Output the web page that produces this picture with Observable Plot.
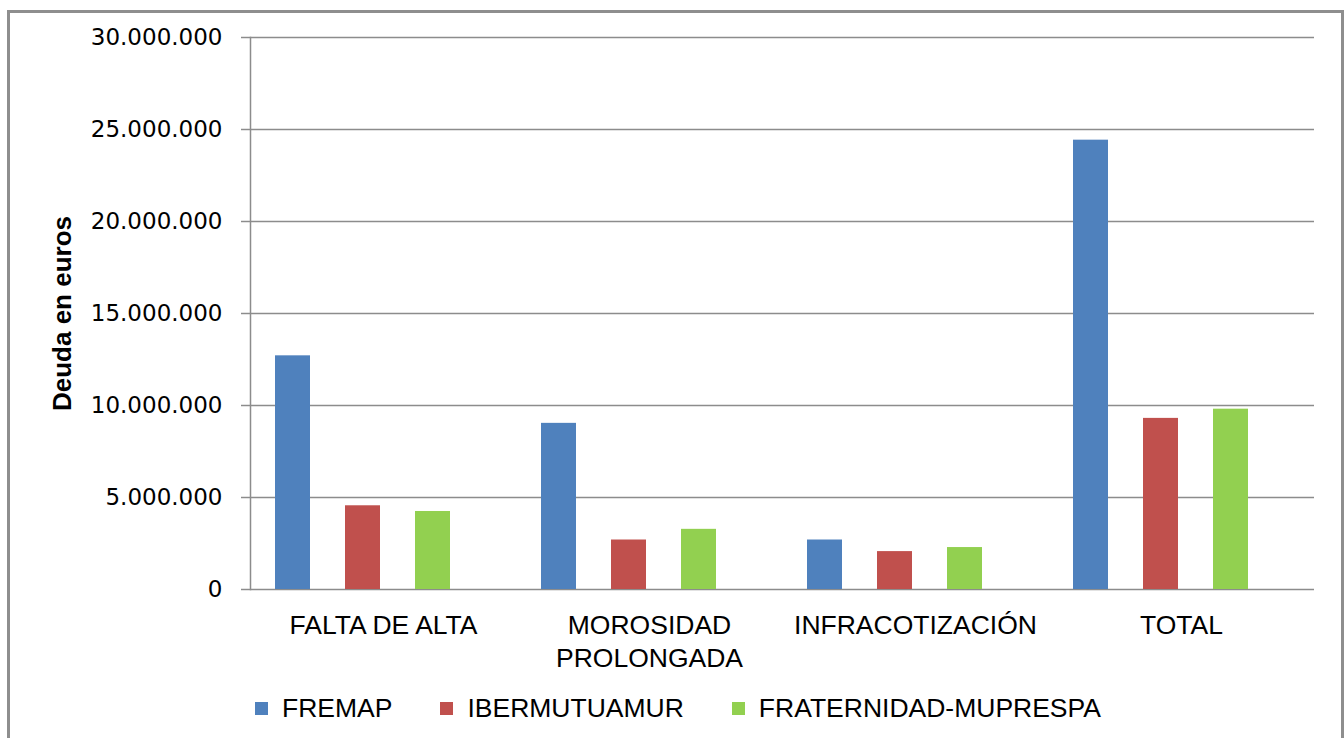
<!DOCTYPE html>
<html>
<head>
<meta charset="utf-8">
<script src="https://cdn.jsdelivr.net/npm/d3@7"></script>
<script src="https://cdn.jsdelivr.net/npm/@observablehq/plot@0.6"></script>
<style>
  html, body { margin: 0; padding: 0; background: #fff; }
  #wrap { position: relative; width: 1344px; height: 738px; overflow: hidden; background: #fff; }
  #border { position: absolute; left: 7px; top: 10px; width: 1337px; height: 800px; box-sizing: border-box; border: 3px solid #8e8e8e; }
  #chart { position: absolute; left: 0; top: 0; }
  #legend { position: absolute; left: 255px; top: 693px; display: flex; align-items: center;
            font-family: "Liberation Sans", Arial, sans-serif; font-size: 26.5px; color: #000; white-space: nowrap; }
  .item { display: flex; align-items: center; margin-right: 48px; }
  .sw { width: 13px; height: 13px; margin-right: 14px; }
</style>
</head>
<body>
<div id="wrap">
  <div id="border"></div>
  <div id="chart"></div>
  <div id="legend"></div>
</div>
<script>
const categories = ["FALTA DE ALTA", "MOROSIDAD PROLONGADA", "INFRACOTIZACIÓN", "TOTAL"];
const categoryLabels = ["FALTA DE ALTA", "MOROSIDAD\nPROLONGADA", "INFRACOTIZACIÓN", "TOTAL"];
const series = ["FREMAP", "IBERMUTUAMUR", "FRATERNIDAD-MUPRESPA"];
const fremap = [12700000, 9030000, 2690000, 24420000];
const ibermutuamur = [4550000, 2690000, 2060000, 9300000];
const fraternidad = [4240000, 3270000, 2280000, 9800000];
const colors = ["#4F81BD", "#C0504D", "#92D050"];
const yTicks = [0, 5000000, 10000000, 15000000, 20000000, 25000000, 30000000];
const yTitle = "Deuda en euros";

const seriesValues = [fremap, ibermutuamur, fraternidad];
const data = categories.flatMap((c, i) =>
  series.map((s, j) => ({category: c, series: s, value: seriesValues[j][i]})));

const fmt = d => d3.format(",")(d).replace(/,/g, ".");
const labelOf = c => categoryLabels[categories.indexOf(c)];
const grid = "#8c8c8c";

const plot = Plot.plot({
  width: 1344,
  height: 680,
  marginLeft: 249,
  marginRight: 29,
  marginTop: 37,
  marginBottom: 91,
  style: {fontFamily: "'Liberation Sans', Arial, sans-serif", fontSize: "25px", color: "#000", background: "transparent"},
  fx: {domain: categories, paddingInner: 0, paddingOuter: 0},
  x: {domain: series, paddingInner: 0.493, paddingOuter: 0.623, align: 0.28, axis: null},
  y: {domain: [0, 30000000], nice: false},
  color: {domain: series, range: colors},
  marks: [
    Plot.ruleY(yTicks, {stroke: grid, strokeWidth: 1.5}),
    Plot.barY(data, {fx: "category", x: "series", y: "value", fill: "series"}),
    Plot.frame({anchor: "left", facet: "super", stroke: grid, strokeWidth: 1.5}),
    Plot.axisY({ticks: yTicks, tickFormat: fmt, tickSize: 9, tickPadding: 19, stroke: grid, strokeWidth: 1.5,
                fill: "#000", fontSize: 23, fontFamily: "DejaVu Sans", label: null}),
    Plot.axisY({ticks: [], label: yTitle, labelAnchor: "center", labelOffset: 198, labelArrow: "none",
                fontSize: 26, fontWeight: "bold", fill: "#000"}),
    Plot.axisFx({anchor: "bottom", tickSize: 0, tickPadding: 21, tickFormat: labelOf,
                 fontSize: 26.5, lineHeight: 1.25, fill: "#000", label: null})
  ]
});
document.getElementById("chart").appendChild(plot);

const legend = document.getElementById("legend");
series.forEach((s, i) => {
  const item = document.createElement("div");
  item.className = "item";
  const sw = document.createElement("span");
  sw.className = "sw";
  sw.style.background = colors[i];
  const t = document.createElement("span");
  t.textContent = s;
  item.appendChild(sw);
  item.appendChild(t);
  legend.appendChild(item);
});
</script>
</body>
</html>
